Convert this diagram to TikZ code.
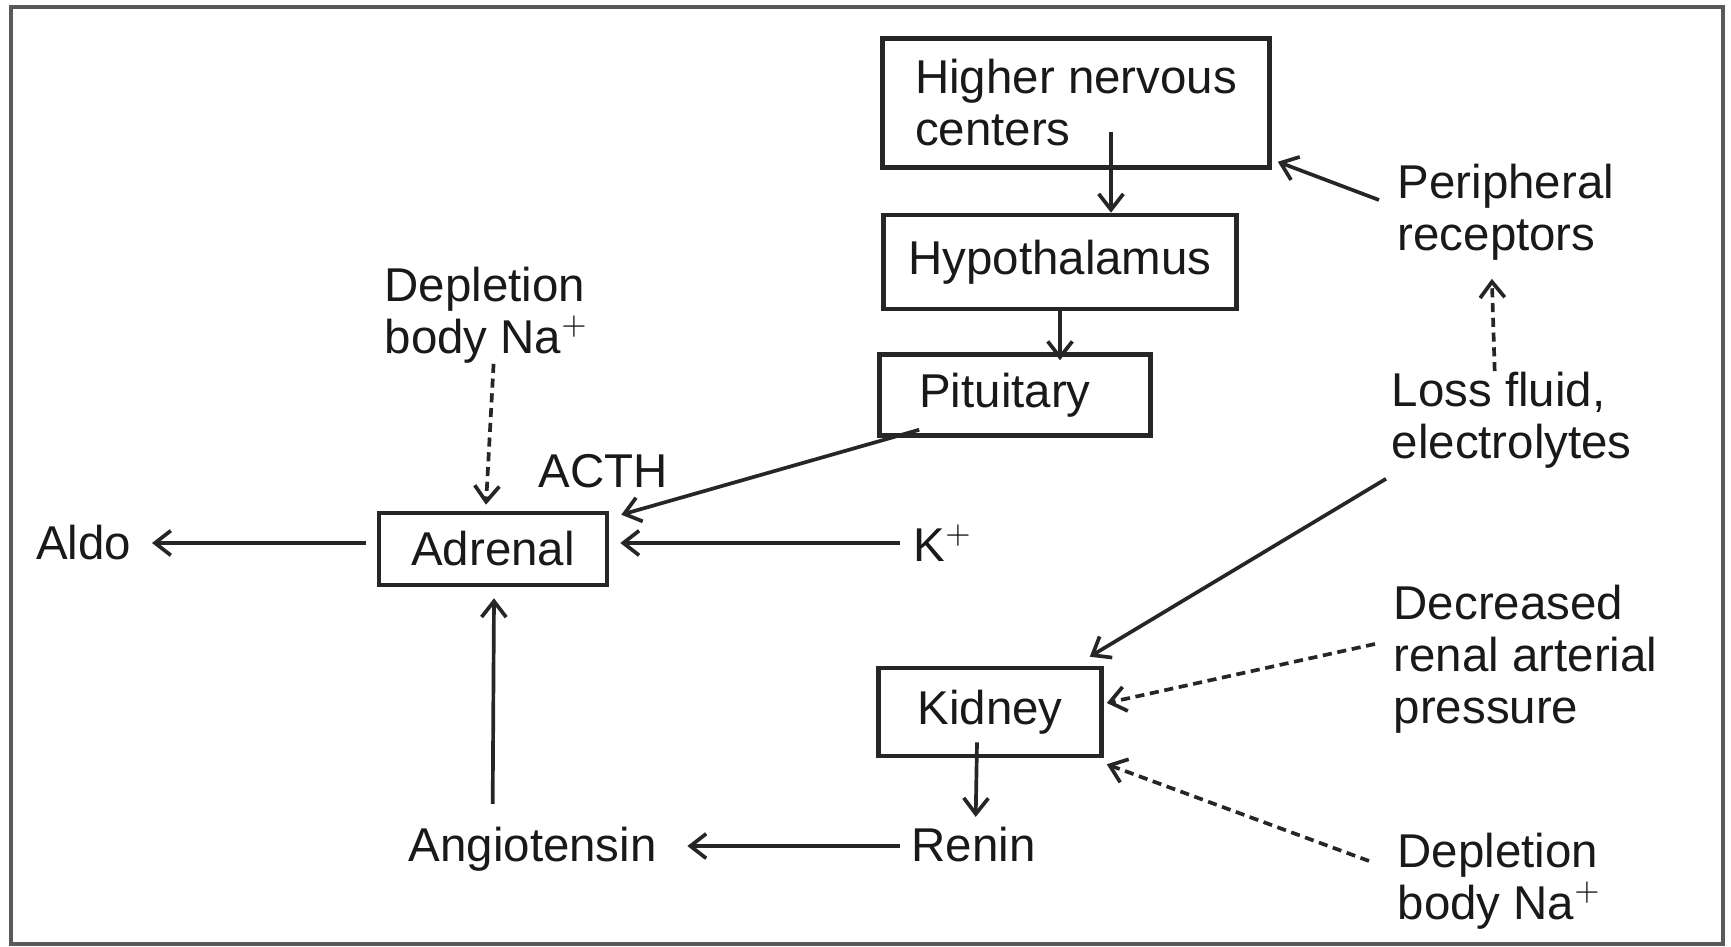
\documentclass[tikz,border=0pt]{standalone}
\usepackage{fontspec}
\setmainfont{Liberation Sans}
\usetikzlibrary{arrows.meta,calc}
\tikzset{
  lbl/.style={inner sep=0pt, align=left, font=\fontsize{13.5}{14.8}\selectfont, text=black!90},
  organ/.style={draw=black!85, line width=1.3pt, inner sep=0pt, align=left, font=\fontsize{13.5}{14.8}\selectfont, text=black!90},
  arr/.style={draw=black!85, line width=1.05pt, -{Straight Barb[length=4.5pt,width=7pt,line width=1.05pt]}},
  darr/.style={arr, dash pattern=on 2.6pt off 1.6pt}
}
\begin{document}
\begin{tikzpicture}[x=0.1mm, y=-0.1mm]
\useasboundingbox (0,0) rectangle (1731,947);
\draw[gray!70!black, line width=1.4pt] (11,7) rectangle (1723,944);
% boxes
\node[organ, minimum width=387*0.1mm, minimum height=129*0.1mm] (hnc) at (1076,103) {Higher nervous\\centers};
\node[organ, minimum width=353*0.1mm, minimum height=94*0.1mm] (hypo) at (1060,262) {Hypothalamus};
\node[organ, minimum width=271*0.1mm, minimum height=81*0.1mm] (pit) at (1015,395) {Pituitary\hspace{2mm}};
\node[organ, minimum width=228*0.1mm, minimum height=72*0.1mm] (adr) at (493,549) {Adrenal};
\node[organ, minimum width=223*0.1mm, minimum height=88*0.1mm] (kid) at (990,712) {Kidney};
% labels
\node[lbl, anchor=west] (per) at (1397,212) {Peripheral\\receptors};
\node[lbl, anchor=west] (loss) at (1391,420) {Loss fluid,\\electrolytes};
\node[lbl, anchor=west] (dec) at (1393,659) {Decreased\\renal arterial\\pressure};
\node[lbl, anchor=west] (dep2) at (1397,881) {Depletion\\body Na$^{+}$};
\node[lbl, anchor=west] (dep1) at (384,315) {Depletion\\body Na$^{+}$};
\node[lbl, anchor=west] (acth) at (538,471) {ACTH};
\node[lbl, anchor=east] (aldo) at (132,543) {Aldo};
\node[lbl, anchor=west] (kp) at (913,543) {K$^{+}$};
\node[lbl, anchor=base west] (ang) at (408,861) {Angiotensin};
\node[lbl, anchor=base west] (ren) at (911,861) {Renin};
% connectors
\draw[arr] ($(hnc.south)+(35,-38)$) coordinate (s1) -- (s1 |- hypo.north);
\draw[arr] (hypo.south) -- ($(hypo.south |- pit.north)+(0,8)$);
\draw[arr] ($(pit.south west)+(42,-8)$) -- ($(adr.north east)+(12,4)$);
\draw[arr] ($(per.west)+(-18,-12)$) -- ($(hnc.south east)+(6,-8)$);
\draw[darr] ($(loss.north)+(-17,0)$) -- ($(per.south)+(-14,18)$);
\draw[darr] ($(dep1.south)+(7,0)$) -- ($(adr.north)+(-7,-6)$);
\draw[arr] ($(kp.west |- adr.east)+(-13,-6)$) -- ($(adr.east)+(11,-6)$);
\draw[arr] ($(adr.west)+(-11,-6)$) -- ($(aldo.east |- adr.west)+(20,-6)$);
\draw[arr] ($(ang.north)+(-40,-22)$) -- ($(adr.south)+(1,11)$);
\draw[arr] ($(ren.west)+(-11,2)$) -- ($(ang.east |- ren.west)+(30,2)$);
\draw[arr] ($(kid.south)+(-13,-16)$) -- ($(ren.north)+(2,-9)$);
\draw[arr] ($(loss.south west)+(-5,10)$) -- ($(kid.north east)+(-14,-9)$);
\draw[darr] ($(dec.west)+(-18,-15)$) -- ($(kid.east)+(3,-9)$);
\draw[darr] ($(dep2.west)+(-28,-20)$) -- ($(kid.south east)+(3,6)$);
\end{tikzpicture}
\end{document}
